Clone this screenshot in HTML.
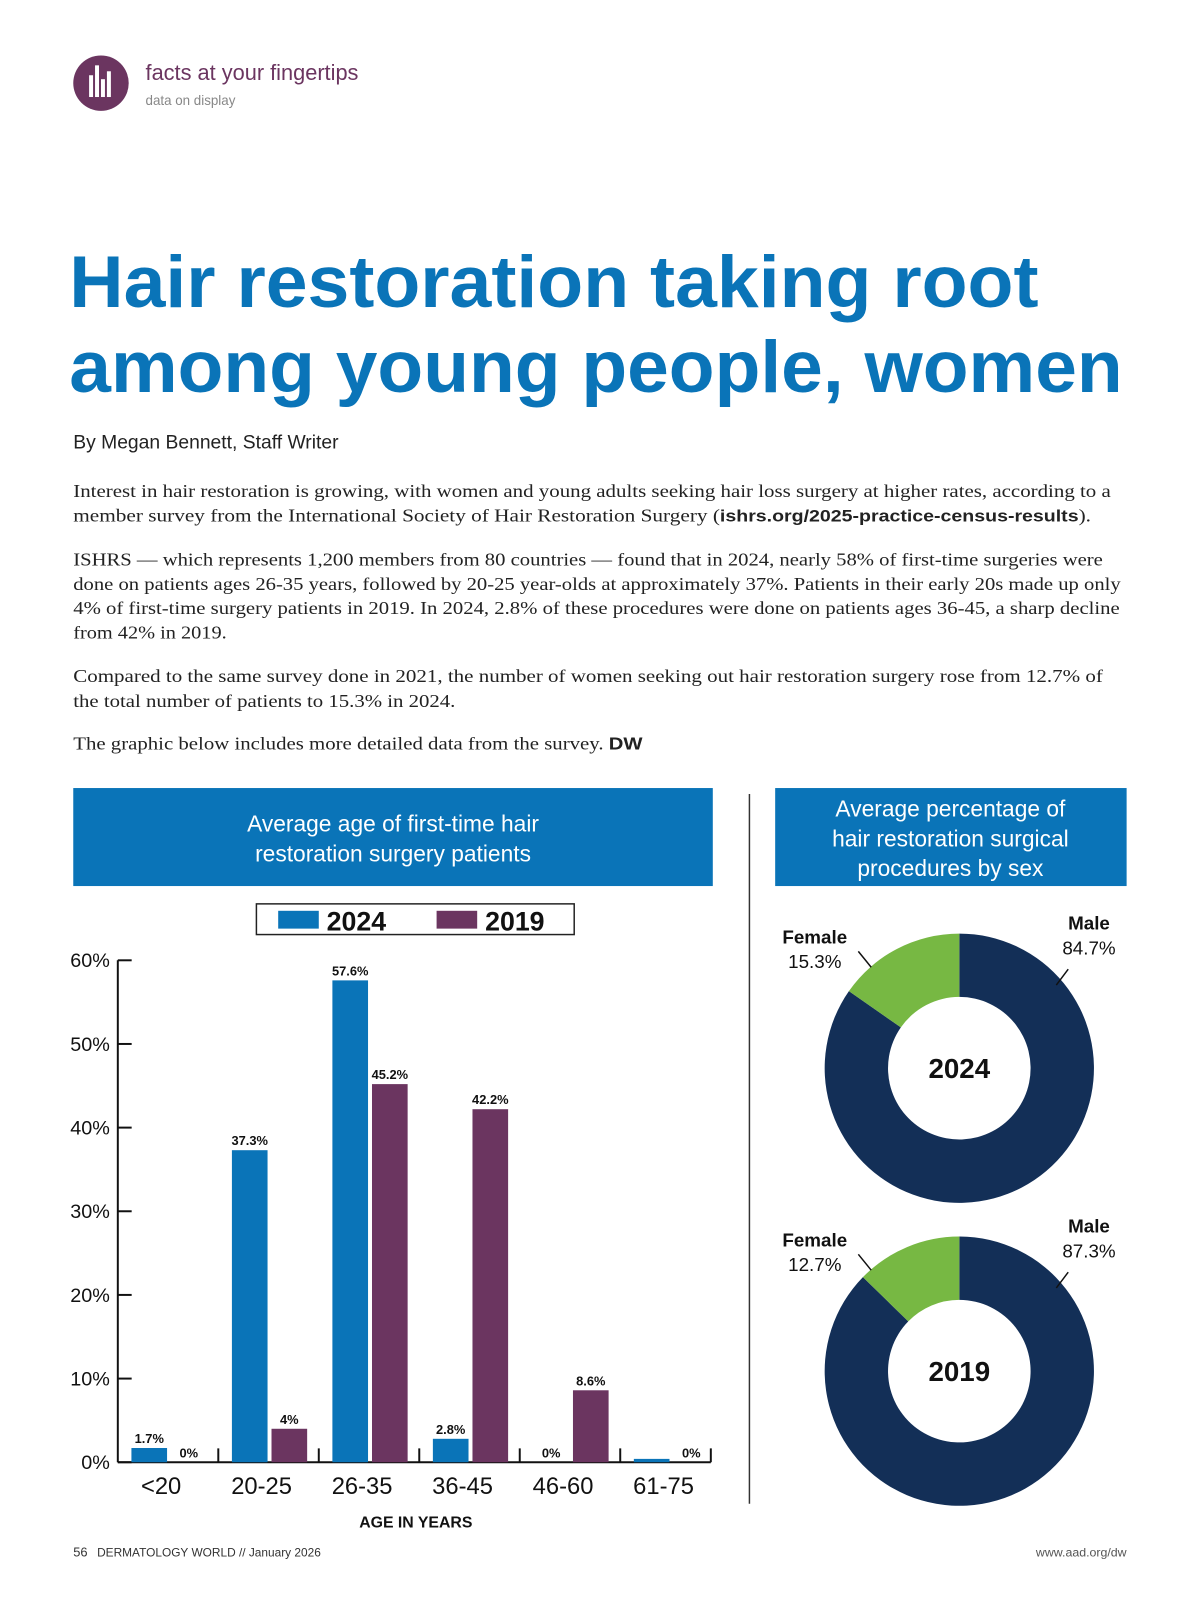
<!DOCTYPE html>
<html><head><meta charset="utf-8"><style>
html,body{margin:0;padding:0;background:#fff}
svg{display:block}
text{font-family:"Liberation Sans",sans-serif}
.serif{font-family:"Liberation Serif",serif;font-size:18.5px;fill:#222}
</style></head><body>
<svg id="page" width="1200" height="1606" viewBox="0 0 1200 1606">
<g transform="scale(0.99)">
<g>
 <circle cx="102" cy="84" r="28" fill="#6b3560"/>
 <rect x="90" y="76" width="4" height="22" fill="#fff"/><rect x="96" y="66" width="4" height="32" fill="#fff"/><rect x="102" y="80" width="4" height="18" fill="#fff"/><rect x="108" y="72" width="4" height="26" fill="#fff"/>
 <text x="147" y="81" font-size="22" fill="#6b3560">facts at your fingertips</text>
 <text x="147" y="106" font-size="13.5" fill="#888">data on display</text>
</g>
<g fill="#0a74b8" font-weight="bold" font-size="74">
 <text x="70" y="310" textLength="979" lengthAdjust="spacingAndGlyphs">Hair restoration taking root</text>
 <text x="70" y="396" textLength="1064" lengthAdjust="spacingAndGlyphs">among young people, women</text>
</g>
<text x="74" y="453" font-size="19.5" fill="#222">By Megan Bennett, Staff Writer</text>
<g>
 <text class="serif" x="74" y="502" textLength="1048" lengthAdjust="spacingAndGlyphs">Interest in hair restoration is growing, with women and young adults seeking hair loss surgery at higher rates, according to a</text>
 <text class="serif" x="74" y="527" textLength="1028" lengthAdjust="spacingAndGlyphs">member survey from the International Society of Hair Restoration Surgery (<tspan font-family="Liberation Sans" font-weight="bold" font-size="17">ishrs.org/2025-practice-census-results</tspan>).</text>
 <text class="serif" x="74" y="571" textLength="1040" lengthAdjust="spacingAndGlyphs">ISHRS — which represents 1,200 members from 80 countries — found that in 2024, nearly 58% of first-time surgeries were</text>
 <text class="serif" x="74" y="596" textLength="1058" lengthAdjust="spacingAndGlyphs">done on patients ages 26-35 years, followed by 20-25 year-olds at approximately 37%. Patients in their early 20s made up only</text>
 <text class="serif" x="74" y="620" textLength="1057" lengthAdjust="spacingAndGlyphs">4% of first-time surgery patients in 2019. In 2024, 2.8% of these procedures were done on patients ages 36-45, a sharp decline</text>
 <text class="serif" x="74" y="645" textLength="155" lengthAdjust="spacingAndGlyphs">from 42% in 2019.</text>
 <text class="serif" x="74" y="689" textLength="1040" lengthAdjust="spacingAndGlyphs">Compared to the same survey done in 2021, the number of women seeking out hair restoration surgery rose from 12.7% of</text>
 <text class="serif" x="74" y="714" textLength="386" lengthAdjust="spacingAndGlyphs">the total number of patients to 15.3% in 2024.</text>
 <text class="serif" x="74" y="757" textLength="575" lengthAdjust="spacingAndGlyphs">The graphic below includes more detailed data from the survey. <tspan font-family="Liberation Sans" font-weight="bold" font-size="18">DW</tspan></text>
</g>
<g>
 <rect x="74" y="796" width="646" height="99" fill="#0a74b8"/>
 <text x="397" y="840" font-size="23" fill="#fff" text-anchor="middle">Average age of first-time hair</text>
 <text x="397" y="870" font-size="23" fill="#fff" text-anchor="middle">restoration surgery patients</text>
</g>
<g>
 <rect x="783" y="796" width="355" height="99" fill="#0a74b8"/>
 <text x="960" y="825" font-size="23" fill="#fff" text-anchor="middle">Average percentage of</text>
 <text x="960" y="855" font-size="23" fill="#fff" text-anchor="middle">hair restoration surgical</text>
 <text x="960" y="885" font-size="23" fill="#fff" text-anchor="middle">procedures by sex</text>
</g>
<line x1="757" y1="802" x2="757" y2="1519" stroke="#333" stroke-width="1.5"/>
<g>
 <rect x="259" y="913" width="321" height="31" fill="#fff" stroke="#222" stroke-width="1.5"/>
 <rect x="281" y="920" width="41" height="18" fill="#0a74b8"/>
 <text x="330" y="940" font-size="27" font-weight="bold" fill="#111">2024</text>
 <rect x="441" y="920" width="41" height="18" fill="#6b3560"/>
 <text x="490" y="940" font-size="27" font-weight="bold" fill="#111">2019</text>
</g>
<g id="bars"></g>
<g id="donuts"></g>
<text x="74" y="1572" font-size="13" fill="#333">56 <tspan dx="6" font-size="12">DERMATOLOGY WORLD // January 2026</tspan></text>
<text x="1138" y="1572" font-size="12.5" fill="#555" text-anchor="end">www.aad.org/dw</text>
</g>
</svg>
<script>
const categories = ["<20","20-25","26-35","36-45","46-60","61-75"];
const values2024 = [1.7,37.3,57.6,2.8,0,0.4];
const values2019 = [0,4,45.2,42.2,8.6,0];
const labels2024 = ["1.7%","37.3%","57.6%","2.8%","0%",""];
const labels2019 = ["0%","4%","45.2%","42.2%","8.6%","0%"];
const yTicks = [0,10,20,30,40,50,60];
const donutYears = ["2024","2019"];
const femaleShare = [15.3,12.7];
const maleShare = [84.7,87.3];

const NS="http://www.w3.org/2000/svg";
function mk(tag,attrs,parent,txt){const e=document.createElementNS(NS,tag);for(const k in attrs)e.setAttribute(k,attrs[k]);if(txt!==undefined)e.textContent=txt;parent.appendChild(e);return e;}
const X0=119,X1=718,Y0=1477,YTOP=970;
const y=v=>Y0-(v/60)*(Y0-YTOP);
const gw=101.5;
const gc=i=>X0+gw*(i+0.5)+1;
const bars=document.getElementById('bars');
const yAxis=mk('line',{x1:X0,y1:YTOP,x2:X0,y2:Y0,stroke:'#111','stroke-width':2},bars);


const xAxis=mk('line',{x1:X0,y1:Y0,x2:X1,y2:Y0,stroke:'#111','stroke-width':2},bars);


yTicks.forEach(t=>{
 mk('line',{x1:X0,y1:y(t),x2:X0+14,y2:y(t),stroke:'#111','stroke-width':2},bars);
 const tl=mk('text',{x:X0-8,y:y(t)+7,'font-size':20,fill:'#111','text-anchor':'end'},bars,t+'%');
 
 
});
for(let i=1;i<categories.length;i++){mk('line',{x1:X0+gw*i,y1:Y0,x2:X0+gw*i,y2:Y0-14,stroke:'#111','stroke-width':2},bars);}
mk('line',{x1:X1,y1:Y0,x2:X1,y2:Y0-14,stroke:'#111','stroke-width':2},bars);
categories.forEach((c,i)=>{
 const cx=gc(i);
 const b1=mk('rect',{x:cx-38,y:y(values2024[i]),width:36,height:Y0-y(values2024[i]),fill:'#0a74b8'},bars);
 
 
 const b2=mk('rect',{x:cx+2,y:y(values2019[i]),width:36,height:Y0-y(values2019[i]),fill:'#6b3560'},bars);
 
 
 if(labels2024[i]){const l=mk('text',{x:cx-20,y:y(values2024[i])-5,'font-size':13,'font-weight':'bold',fill:'#111','text-anchor':'middle'},bars,labels2024[i]);
  
  }
 const l2=mk('text',{x:cx+20,y:y(values2019[i])-5,'font-size':13,'font-weight':'bold',fill:'#111','text-anchor':'middle'},bars,labels2019[i]);
 
 
 const cl=mk('text',{x:cx-8,y:1509,'font-size':24,fill:'#111','text-anchor':'middle'},bars,c);
 
 
});
const xt=mk('text',{x:420,y:1543,'font-size':16,'font-weight':'bold',fill:'#111','text-anchor':'middle'},bars,'AGE IN YEARS');



const dg=document.getElementById('donuts');
const R=136,r=72,CX=969,centersY=[1079,1385];
function arc(cx,cy,a0,a1){const p=(a,rr)=>[cx+rr*Math.sin(a),cy-rr*Math.cos(a)];const lg=(a1-a0)>Math.PI?1:0;
 const [x1,y1]=p(a0,R),[x2,y2]=p(a1,R),[x3,y3]=p(a1,r),[x4,y4]=p(a0,r);
 return `M${x1},${y1}A${R},${R} 0 ${lg} 1 ${x2},${y2}L${x3},${y3}A${r},${r} 0 ${lg} 0 ${x4},${y4}Z`;}
donutYears.forEach((yr,i)=>{
 const cy=centersY[i];
 const m=maleShare[i]/100*2*Math.PI;
 const ms=mk('path',{d:arc(CX,cy,0,m),fill:'#132f57'},dg);
 
 
 const fs=mk('path',{d:arc(CX,cy,m,2*Math.PI),fill:'#77b843'},dg);
 
 
 const ct=mk('text',{x:CX,y:cy+10,'font-size':28,'font-weight':'bold',fill:'#111','text-anchor':'middle'},dg,yr);
 
 
 const top=cy-R;
 const fl=mk('text',{x:823,y:top+10,'font-size':19,'font-weight':'bold',fill:'#111','text-anchor':'middle'},dg,'Female');
 
 
 mk('text',{x:823,y:top+35,'font-size':19,fill:'#111','text-anchor':'middle'},dg,femaleShare[i]+'%');
 const ml=mk('text',{x:1100,y:top-4,'font-size':19,'font-weight':'bold',fill:'#111','text-anchor':'middle'},dg,'Male');
 
 
 mk('text',{x:1100,y:top+21,'font-size':19,fill:'#111','text-anchor':'middle'},dg,maleShare[i]+'%');
 mk('line',{x1:867,y1:top+18,x2:880,y2:top+34,stroke:'#111','stroke-width':1.5},dg);
 mk('line',{x1:1079,y1:top+36,x2:1067,y2:top+52,stroke:'#111','stroke-width':1.5},dg);
});
</script>
</body></html>
